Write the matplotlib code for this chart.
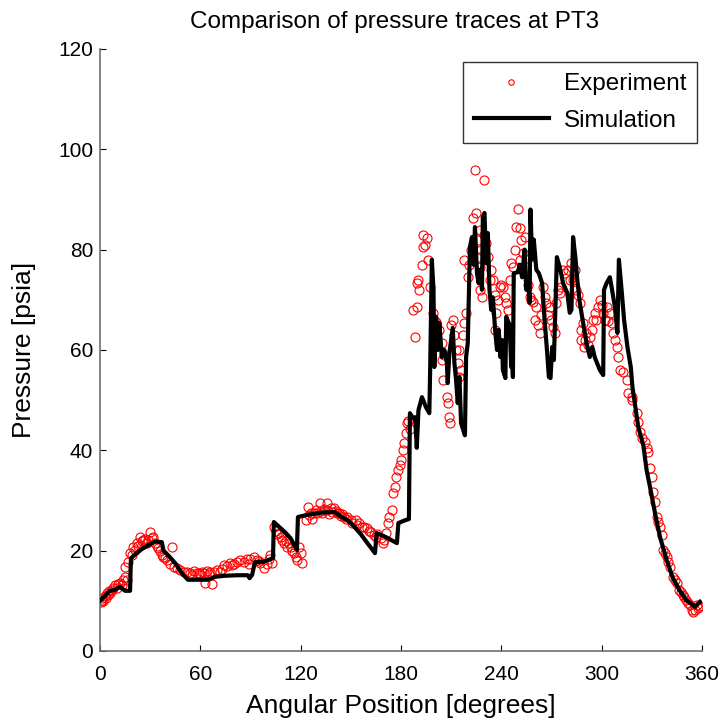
import matplotlib
matplotlib.use("Agg")
import matplotlib.pyplot as plt

plt.rcParams['font.family'] = ['Liberation Sans', 'DejaVu Sans']

# Simulation trace (angular position [deg], pressure [psia])
sim_x = [0, 3, 6, 9, 12, 15, 18, 18.5, 22, 25, 29, 33, 37, 38, 41, 45, 49, 52.6, 60, 64.6, 69, 75, 82, 88.5,
         89.5, 91, 92.7, 98, 103.5, 104, 107, 110.6, 114, 117.8, 118.4, 125, 133, 140.5, 144, 148, 152, 155.5,
         160, 164.5, 165.5, 171, 177.6, 178.5, 182, 184.8, 185.4, 187, 188.5, 189.5, 190.5, 192.6, 195, 197,
         197.5, 198.5, 199.5, 200, 201, 202, 203, 204.5, 206, 207.5, 208, 209, 211, 212, 213, 214, 215, 216,
         218.3, 219, 220, 221.3, 222.5, 223.5, 224.3, 225.5, 226.5, 227.5, 228.5, 229, 230, 231, 232, 233, 234,
         235, 236.5, 237.5, 238.5, 239.5, 240.5, 241, 242.5, 243, 245, 246, 246.5, 247, 247.5, 250, 251, 252.5,
         254, 255, 256, 257, 257.5, 258.5, 259.5, 261, 262.5, 264.5, 265.5, 267.5, 268.5, 269.5, 270.5, 271.5,
         273.3, 275, 276, 277, 279.5, 281, 282, 283, 284.5, 285.5, 287, 289, 291, 293, 294.5, 296, 299, 301,
         301.5, 303, 305, 306, 308, 309.5, 310.4, 312, 313.5, 315.5, 317.5, 318.5, 320.5, 322, 325, 327, 329,
         332, 335, 339, 342.5, 346.5, 350.5, 356, 358.9]
sim_y = [10, 11, 12, 12.2, 12.8, 12, 12, 18.5, 19.5, 20.3, 21.1, 21.8, 21.7, 20, 19, 17.5, 15.5, 14.2, 14.2, 14.2,
         14.8, 15, 15.1, 15.1, 14.5, 15.2, 17.7, 17.8, 18.5, 25.7, 24.8, 23.7, 22.5, 20.1, 26.7, 27.2, 27.6, 27.7,
         26.8, 26.1, 24.8, 23.5, 21.5, 19.5, 23.5, 22.7, 21.5, 25.5, 26, 26.3, 47.4, 46.5, 46.6, 40.5, 48, 50.6,
         48.6, 47.4, 56, 78, 72, 56.6, 66.6, 60, 65.4, 58.6, 60, 57.4, 53.4, 59.4, 64.4, 57.4, 54, 49.4, 54.6,
         45.4, 43, 58.6, 61.4, 80.5, 82.5, 77, 84.5, 75.3, 73.3, 76, 72, 86.5, 87.3, 77.3, 83.3, 72, 68, 70.5,
         63.4, 60, 64, 58.6, 62, 56, 54.4, 66.6, 65, 56.6, 59, 54.6, 75.3, 75.5, 77, 74.5, 80, 72, 74, 69.4, 88,
         78, 82, 76, 75.3, 73.3, 68, 59.4, 54.6, 54.4, 60.6, 58, 78.5, 76.5, 75, 73.3, 71.4, 67.4, 68, 82.5, 78,
         74, 69.4, 65.4, 61.4, 58.6, 60.6, 58.5, 56, 55, 72, 73.3, 74.5, 72.6, 68.6, 63.4, 78, 72, 66, 60.6,
         56.6, 52.6, 48, 44.6, 41, 36, 32.7, 27.5, 22.7, 18.1, 14.7, 12.2, 10.2, 8.8, 9.8]

# Experiment samples (angular position [deg], pressure [psia])
exp_x = [0.5, 1, 1.5, 2, 3, 3.5, 4, 5, 5.5, 6, 7, 8, 9, 10, 11, 12, 13, 14, 15, 15, 16, 17, 18, 19, 20, 21, 22,
         23, 24, 25, 26, 27, 28, 29, 30, 31, 32, 33, 34, 35, 36, 37, 38, 39, 40, 42, 43, 44, 46, 48, 50, 52, 54,
         55, 56, 58, 59, 60, 61, 62, 63, 64, 65, 66, 67, 68, 70, 72, 73, 74, 76, 78, 79, 80, 82, 84, 86, 88, 89,
         90, 92, 94, 95, 96, 98, 100, 101, 102, 103, 104, 105, 106, 107, 108, 109, 110, 111, 112, 113, 114, 115,
         116, 117, 118, 119, 120, 121, 123, 124.4, 125, 126, 127, 128, 129, 130, 131.6, 132, 133, 134, 135.6,
         136, 137, 138, 139, 140, 141, 142, 143, 144, 145, 146, 147, 148, 150, 151, 153, 154, 155, 157, 158,
         160, 161, 162, 164, 165, 166, 168, 169.3, 170, 171, 172, 173, 174.6, 175.5, 176.5, 177, 178, 179.4,
         180, 181, 182, 183, 183.6, 184.5, 185.5, 187.2, 188.4, 189.5, 189.5, 190, 191, 192.6, 193, 193.2,
         195.5, 194.5, 196, 197.2, 199, 200, 201, 204.5, 204.5, 205, 207.5, 208, 209, 209.5, 211, 210, 213,
         215, 216, 215, 218, 219, 218, 220, 223, 225, 224.3, 229.7, 227.5, 226.5, 227.5, 227.5, 228.5, 231,
         232, 233.5, 235, 236, 237, 236, 239.5, 241, 242, 243, 244, 246, 249, 250, 251, 254, 253, 251, 255,
         257, 258, 259, 261, 263, 265, 266, 267, 269, 271, 272, 273, 274, 275, 276, 277, 278, 282, 284, 283,
         285, 287, 289, 291, 287.5, 289.5, 293, 294.5, 295, 296, 298, 299, 301, 303, 305, 306, 307, 308, 309.5,
         310, 311, 312.8, 315, 316, 318, 318.5, 321, 322, 323, 324.5, 326, 327, 328, 329, 330, 331, 332, 333,
         334, 335, 336, 337, 338, 339, 340, 341, 342.5, 344, 345, 346.5, 347.5, 348.5, 349.5, 350.5, 352, 353,
         354, 355, 356, 357, 357.5, 358.5,
         203, 206, 212, 214, 217, 221, 222, 226, 228, 230, 234, 238, 240, 245, 247, 248, 252, 256, 260, 262,
         264, 268, 270, 280, 281, 286, 288, 290, 292, 297, 300, 302, 304]
exp_y = [9.8, 10.2, 10.5, 10, 11, 10.6, 11.5, 11.2, 12, 11.6, 12.2, 12.5, 13.2, 12.6, 13.4, 13.5, 13.1, 14.2,
         14.8, 16.8, 14.2, 17.7, 19.5, 19.2, 20.7, 20.2, 21.5, 21, 22.7, 21.9, 22.1, 22.4, 21.6, 22.1, 23.7,
         22.5, 22.8, 21.5, 21, 20.5, 20, 19.2, 18.7, 18.5, 18.1, 17.3, 20.7, 16.8, 16.5, 16.1, 15.7, 15.7, 15.5,
         15.2, 15.9, 15.6, 15.5, 15.4, 15.8, 15.5, 13.5, 15.9, 15.3, 15.7, 13.4, 15.7, 16.1, 15.8, 16.4, 17.1,
         16.9, 17.5, 17.2, 17.3, 17.8, 18.1, 17.8, 18.4, 17.3, 18.4, 18.7, 18.2, 18, 17.5, 16.5, 17.3, 18.4,
         19.2, 17.5, 24.7, 24, 23.3, 23.5, 22.7, 22.2, 21.5, 22, 20.7, 21.5, 20.7, 20, 19.5, 18.7, 18.1, 20.7,
         19.5, 17.5, 26.1, 28.7, 27.2, 27.5, 26.3, 27.6, 28.1, 27.5, 29.5, 28, 27.5, 28.3, 29.5, 28.1, 27.3,
         28.5, 27.8, 28.5, 27.9, 27.6, 27.5, 27, 27.3, 26.7, 26.3, 26.7, 26.2, 25.5, 26.1, 25.2, 25.5, 24.8,
         24.7, 24.5, 24, 23.7, 23.2, 22.7, 23.4, 22.5, 21.5, 22.1, 23.5, 25.5, 26.7, 28.1, 31.5, 32.7, 34.7,
         36.1, 37.1, 38, 40, 41.5, 43.5, 45.4, 45.8, 44.2, 68, 62.6, 68.6, 73.3, 74, 72, 77, 80.5, 83, 82.3,
         81, 78, 72.6, 67.4, 66, 65.5, 61.4, 58, 54, 50.6, 49.4, 46.6, 45.4, 66, 65, 60, 60, 56, 54.6, 65.4,
         67.4, 78, 74.5, 86.3, 87.3, 95.9, 93.9, 84, 78.5, 76.5, 72, 70.6, 81.3, 78.5, 74, 74, 71, 67.4, 64,
         72.6, 72.5, 70.6, 69.4, 68, 77.3, 84.5, 88, 84.3, 82.5, 79.3, 78, 76.5, 70.6, 70, 69.5, 68.6, 63.4,
         72.6, 70.6, 69.4, 68.6, 64.6, 63.4, 69.4, 72, 71.4, 72.6, 76, 75.3, 77.3, 76, 74, 72, 69.4, 65.4, 63.4,
         62, 60.6, 62.6, 64, 66, 67.4, 68.6, 70, 67.4, 68.6, 67.4, 65.4, 63.4, 62, 60.6, 58.6, 56, 55.6, 54,
         51.4, 50.6, 50, 47.4, 45.6, 43.6, 42.5, 41.7, 40.5, 39.7, 36.5, 34.7, 31.7, 29.7, 26.7, 25.8, 24.7,
         23.1, 20.1, 19.6, 18.7, 17.8, 16.7, 14.7, 14.2, 13.5, 12.2, 11.8, 11.2, 10.8, 10.2, 9.6, 9.1, 8.2, 7.8,
         8.2, 9.2, 8.5, 8.9,
         64, 59, 63, 57.5, 63, 77, 80, 82, 80, 83, 76, 70, 73, 74, 76.5, 80, 82, 73, 66, 65,
         67, 67, 66, 76, 74, 71, 64, 62, 61, 66, 69, 66, 65.8]

fig = plt.figure(figsize=(7.26, 7.21), dpi=100)
ax = fig.add_axes([0.1377, 0.0971, 0.829, 0.835])

ax.plot(exp_x, exp_y, linestyle='none', marker='o', markersize=6.5, markerfacecolor='none',
        markeredgecolor='red', markeredgewidth=0.8, label='Experiment', zorder=2)
ax.plot(sim_x, sim_y, color='black', linewidth=3, label='Simulation', zorder=3)

ax.set_xlim(0, 360)
ax.set_ylim(0, 120)
ax.set_xticks(range(0, 361, 60))
ax.set_yticks(range(0, 121, 20))
ax.tick_params(direction='in', length=4, width=0.8, labelsize=15)
ax.tick_params(axis='x', pad=10)
ax.tick_params(axis='y', pad=5)
for s in ['top', 'right']:
    ax.spines[s].set_visible(False)
for s in ['left', 'bottom']:
    ax.spines[s].set_color('#6e6e6e')
    ax.spines[s].set_linewidth(1.2)

ax.set_xlabel('Angular Position [degrees]', fontsize=19, labelpad=7)
ax.set_ylabel('Pressure [psia]', fontsize=19, labelpad=16)
ax.set_title('Comparison of pressure traces at PT3', fontsize=17.5, pad=15, x=0.49)

leg = ax.legend(loc='upper right', bbox_to_anchor=(0.992, 0.978), fontsize=17.5, frameon=True,
                fancybox=False, edgecolor='black', handlelength=3.1, markerscale=0.6,
                borderpad=0.45, labelspacing=0.6, handletextpad=0.6, borderaxespad=0)
leg.get_frame().set_linewidth(1.0)

fig.savefig('out.png', dpi=100)
